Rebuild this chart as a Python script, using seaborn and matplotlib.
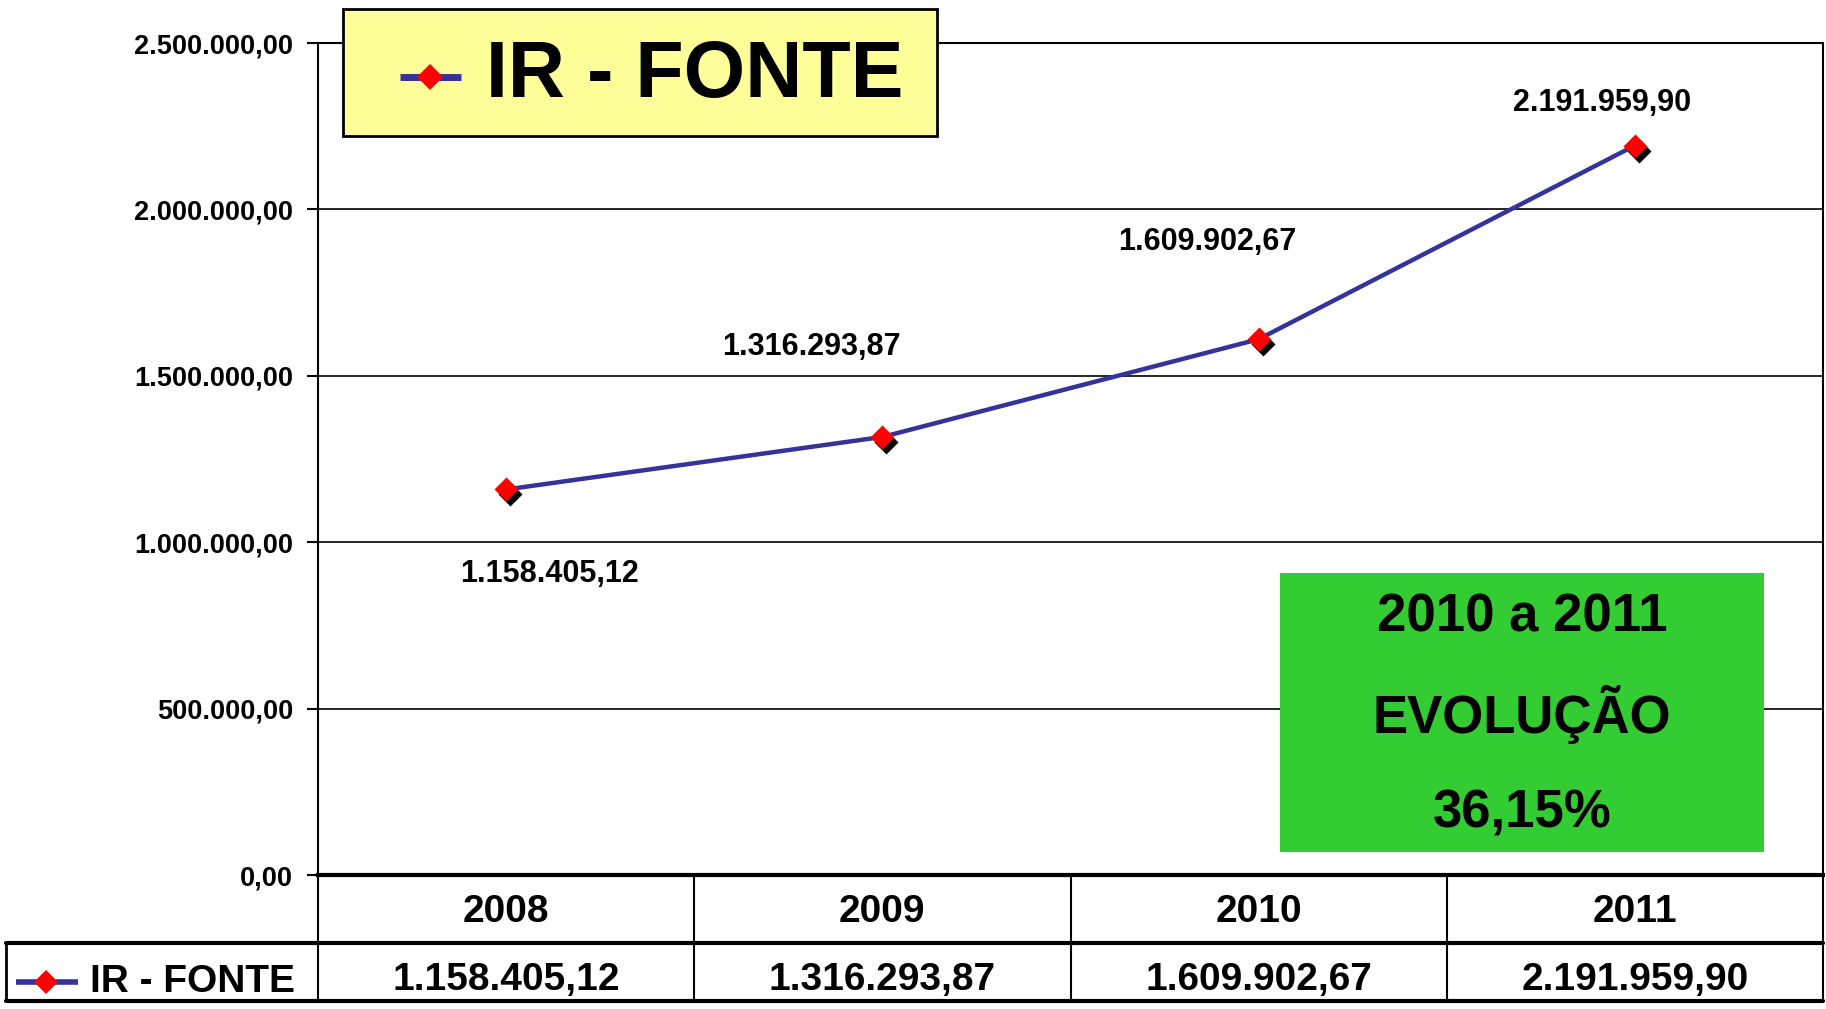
# IR - FONTE chart

import numpy as np
import pandas as pd
import matplotlib.pyplot as plt
import matplotlib.transforms as mtransforms
from matplotlib.patches import Rectangle
import seaborn as sns

# Data
anos = ["2008", "2009", "2010", "2011"]
ir_fonte = [1158405.12, 1316293.87, 1609902.67, 2191959.90]
serie = "IR - FONTE"
evolucao = ["2010 a 2011", "EVOLUÇÃO", "36,15%"]
y_ticks = [0, 500000, 1000000, 1500000, 2000000, 2500000]


def br(v):
    # brazilian number format 1.234.567,89
    return f"{v:,.2f}".replace(",", "X").replace(".", ",").replace("X", ".")


df = pd.DataFrame({"ano": anos, "valor": ir_fonte})

sns.set_style("white")
plt.rcParams["font.family"] = ["Liberation Sans", "DejaVu Sans"]
plt.rcParams["font.weight"] = "bold"
plt.rcParams["text.color"] = "black"
plt.rcParams["ytick.color"] = "black"
plt.rcParams["xtick.color"] = "black"
plt.rcParams["axes.labelcolor"] = "black"

NAVY = "#333399"
RED = "#FF0000"

W, H = 1826, 1009
fig = plt.figure(figsize=(W / 100, H / 100), dpi=100)

# plot area in pixels
L, R, T, B = 318, 1823, 43, 875
ax = fig.add_axes([L / W, 1 - B / H, (R - L) / W, (B - T) / H])

# Line
sns.lineplot(data=df, x="ano", y="valor", color=NAVY, lw=3.2, ax=ax, zorder=3)

# marker shadow
shadow = mtransforms.offset_copy(ax.transData, fig=fig, x=4, y=-5, units="dots")
sns.scatterplot(data=df, x="ano", y="valor", marker="D", s=150, color="black",
                linewidth=0, transform=shadow, ax=ax, zorder=4)
sns.scatterplot(data=df, x="ano", y="valor", marker="D", s=150, color=RED,
                linewidth=0, ax=ax, zorder=5)

ax.set_xlim(-0.5, 3.5)
ax.set_ylim(0, 2500000)
ax.set_yticks(y_ticks)
ax.set_yticklabels([br(v) for v in y_ticks], fontsize=19.5, fontweight="bold")
ax.set_xticks([])
ax.set_xlabel("")
ax.set_ylabel("")
ax.yaxis.grid(True, color="black", lw=1.2)
ax.tick_params(axis="y", direction="out", length=8, width=1.5, pad=10, left=True)
for s in ["left", "right", "top"]:
    ax.spines[s].set_color("black")
    ax.spines[s].set_linewidth(1.5)
ax.spines["bottom"].set_color("black")
ax.spines["bottom"].set_linewidth(3)

# Data labels
offsets = [(43, -85), (-71, 90), (-51, 97), (-33, 43)]
for i, v in enumerate(ir_fonte):
    ax.annotate(br(v), (i, v), xytext=offsets[i], textcoords="offset pixels",
                ha="center", va="center", fontsize=22, fontweight="bold")

# overlay in pixel coordinates for legend box, note box and data table
ov = fig.add_axes([0, 0, 1, 1], zorder=10)
ov.set_xlim(0, W)
ov.set_ylim(H, 0)
ov.axis("off")

# legend box
ov.add_patch(Rectangle((343, 9), 594, 127, facecolor="#FFFF99",
                       edgecolor="black", lw=2))
ov.plot([400, 461], [77, 77], color=NAVY, lw=5, solid_capstyle="butt")
ov.plot([430], [77], marker="D", ms=13, color=RED, mew=0)
ov.text(486, 77, serie, fontsize=57, fontweight="bold", va="center", ha="left")

# green box
ov.add_patch(Rectangle((1280, 573), 484, 279, facecolor="#33CC33",
                       edgecolor="none"))
for yy, txt in zip([618, 715, 813], evolucao):
    ov.text(1522, yy, txt, fontsize=38, fontweight="bold",
            ha="center", va="center")

# data table
cols = [L + (R - L) * k / 4 for k in range(5)]
for x in cols:
    ov.plot([x, x], [B, 1001], color="black", lw=1.5)
ov.plot([6, 6], [943, 1001], color="black", lw=2)
ov.plot([6, R], [943, 943], color="black", lw=3)
ov.plot([6, R], [1001, 1001], color="black", lw=3)
for k, (ano, v) in enumerate(zip(anos, ir_fonte)):
    cx = (cols[k] + cols[k + 1]) / 2
    ov.text(cx, 912, ano, fontsize=28, fontweight="bold", ha="center", va="center")
    ov.text(cx, 980, br(v), fontsize=28, fontweight="bold", ha="center", va="center")

ov.plot([16, 78], [982, 982], color=NAVY, lw=4, solid_capstyle="butt")
ov.plot([46], [982], marker="D", ms=12, color=RED, mew=0)
ov.text(90, 982, serie, fontsize=28, fontweight="bold", ha="left", va="center")

fig.savefig("out.png", dpi=100, facecolor="white")
